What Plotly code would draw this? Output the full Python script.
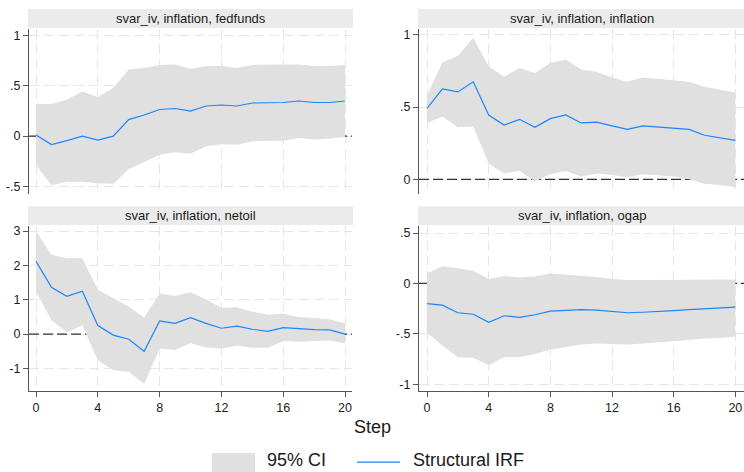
import plotly.graph_objects as go

steps = list(range(21))

# fedfunds
ff_irf = [0.01, -0.085, -0.045, 0.0, -0.04, 0.0, 0.165, 0.21, 0.265, 0.275, 0.25,
          0.30, 0.31, 0.30, 0.33, 0.335, 0.335, 0.35, 0.335, 0.335, 0.35]
ff_hi = [0.32, 0.32, 0.365, 0.445, 0.39, 0.48, 0.665, 0.68, 0.71, 0.715, 0.67,
         0.70, 0.70, 0.68, 0.71, 0.715, 0.715, 0.715, 0.70, 0.70, 0.71]
ff_lo = [-0.29, -0.49, -0.455, -0.455, -0.47, -0.475, -0.33, -0.26, -0.185, -0.16, -0.175,
         -0.10, -0.08, -0.085, -0.05, -0.045, -0.045, -0.02, -0.035, -0.025, -0.01]

# inflation
inf_irf = [0.49, 0.625, 0.605, 0.675, 0.445, 0.375, 0.415, 0.36, 0.42, 0.445, 0.39,
           0.395, 0.37, 0.345, 0.37, 0.36, 0.355, 0.345, 0.305, 0.29, 0.27]
inf_hi = [0.58, 0.81, 0.855, 0.98, 0.78, 0.71, 0.77, 0.735, 0.805, 0.83, 0.76,
          0.745, 0.705, 0.675, 0.705, 0.695, 0.69, 0.675, 0.64, 0.62, 0.60]
inf_lo = [0.39, 0.435, 0.36, 0.365, 0.11, 0.04, 0.06, -0.015, 0.035, 0.058, 0.02,
          0.04, 0.03, 0.015, 0.035, 0.03, 0.02, 0.0, -0.03, -0.04, -0.055]

# netoil
oil_irf = [2.12, 1.36, 1.10, 1.25, 0.25, -0.03, -0.15, -0.50, 0.38, 0.31, 0.48,
           0.31, 0.17, 0.23, 0.14, 0.08, 0.19, 0.15, 0.13, 0.12, 0.0]
oil_hi = [3.0, 2.31, 2.21, 2.21, 1.29, 1.04, 0.80, 0.48, 1.18, 1.11, 1.22,
          1.01, 0.77, 0.78, 0.65, 0.56, 0.59, 0.50, 0.47, 0.43, 0.31]
oil_lo = [1.24, 0.40, 0.05, 0.26, -0.76, -1.05, -1.10, -1.45, -0.42, -0.46, -0.27,
          -0.39, -0.42, -0.34, -0.40, -0.40, -0.20, -0.22, -0.20, -0.19, -0.27]

# ogap
og_irf = [-0.20, -0.215, -0.29, -0.305, -0.385, -0.32, -0.335, -0.31, -0.275, -0.27, -0.26,
          -0.265, -0.275, -0.29, -0.285, -0.28, -0.27, -0.26, -0.25, -0.245, -0.235]
og_hi = [0.10, 0.17, 0.15, 0.125, 0.045, 0.075, 0.06, 0.07, 0.10, 0.09, 0.08,
         0.065, 0.045, 0.035, 0.035, 0.035, 0.04, 0.04, 0.04, 0.04, 0.04]
og_lo = [-0.49, -0.615, -0.73, -0.735, -0.81, -0.73, -0.73, -0.70, -0.655, -0.63, -0.605,
         -0.595, -0.60, -0.605, -0.595, -0.585, -0.575, -0.56, -0.545, -0.54, -0.525]

titles = ["svar_iv, inflation, fedfunds", "svar_iv, inflation, inflation",
          "svar_iv, inflation, netoil", "svar_iv, inflation, ogap"]
x_ticks = [0, 4, 8, 12, 16, 20]
y_ticks = [
    ([-0.5, 0, 0.5, 1], ["-.5", "0", ".5", "1"]),
    ([0, 0.5, 1], ["0", ".5", "1"]),
    ([-1, 0, 1, 2, 3], ["-1", "0", "1", "2", "3"]),
    ([-1, -0.5, 0, 0.5], ["-1", "-.5", "0", ".5"]),
]
legend_labels = ["95% CI", "Structural IRF"]
x_label = "Step"
ref_value = 0

series = [(ff_irf, ff_lo, ff_hi), (inf_irf, inf_lo, inf_hi),
          (oil_irf, oil_lo, oil_hi), (og_irf, og_lo, og_hi)]

W, H = 744, 472
BAND = "#e0e0e0"
LINE = "#1a85ff"
STRIP = "#ebebeb"
AX = "#555555"
GRID = "#e6e6e6"
TXT = "#1a1a1a"
FONT = "Liberation Sans, Arial, sans-serif"

# pixel geometry of each panel: (left, right, top, bottom)
panels = [(29, 352, 27, 193), (419, 744, 27, 193), (29, 352, 225, 391), (419, 744, 225, 391)]
x_ranges = [[-0.453, 20.45], [-0.52, 20.56], [-0.453, 20.45], [-0.52, 20.56]]
y_ranges = [[-0.579, 1.069], [-0.103, 1.041], [-1.667, 3.145], [-1.069, 0.569]]

fig = go.Figure()
layout = dict(
    width=W, height=H, margin=dict(l=0, r=0, t=0, b=0),
    paper_bgcolor="white", plot_bgcolor="white", showlegend=False,
    font=dict(family=FONT, size=12, color=TXT),
)
shapes = []
annotations = []

for i, ((irf, lo, hi), (l, r, t, b)) in enumerate(zip(series, panels)):
    k = "" if i == 0 else str(i + 1)
    xa, ya = "x" + k, "y" + k
    # dashed zero reference line, drawn beneath the band
    fig.add_trace(go.Scatter(x=x_ranges[i], y=[ref_value, ref_value], mode="lines",
                             line=dict(color="#333333", width=1.2, dash="10px,4px"),
                             xaxis=xa, yaxis=ya, hoverinfo="skip"))
    fig.add_trace(go.Scatter(x=steps, y=lo, mode="lines", line=dict(width=0, color=BAND),
                             xaxis=xa, yaxis=ya, hoverinfo="skip"))
    fig.add_trace(go.Scatter(x=steps, y=hi, mode="lines", line=dict(width=0, color=BAND),
                             fill="tonexty", fillcolor=BAND, xaxis=xa, yaxis=ya, name=legend_labels[0]))
    fig.add_trace(go.Scatter(x=steps, y=irf, mode="lines", line=dict(width=1.2, color=LINE),
                             xaxis=xa, yaxis=ya, name=legend_labels[1]))
    bottom_row = i >= 2
    layout["xaxis" + k] = dict(
        domain=[l / W, r / W], range=x_ranges[i], anchor=ya,
        tickvals=x_ticks, showticklabels=bottom_row,
        ticks="outside" if bottom_row else "", ticklen=5, tickcolor=AX, tickwidth=1,
        showline=bottom_row, linecolor=AX, linewidth=1.3,
        showgrid=True, gridcolor=GRID, griddash="10px,5px", gridwidth=1,
        zeroline=False, tickfont=dict(size=12.5, color=TXT),
    )
    tv, tt = y_ticks[i]
    layout["yaxis" + k] = dict(
        domain=[1 - b / H, 1 - t / H], range=y_ranges[i], anchor=xa,
        tickvals=tv, ticktext=tt, ticks="outside", ticklen=5, tickcolor=AX, tickwidth=1,
        showline=True, linecolor=AX, linewidth=1.3,
        showgrid=True, gridcolor=GRID, griddash="10px,5px", gridwidth=1,
        zeroline=False, tickfont=dict(size=12.5, color=TXT),
    )
    # title strip
    shapes.append(dict(type="rect", xref="paper", yref="paper",
                       x0=(l - 1) / W, x1=(r + 1) / W, y0=1 - (t - 1) / H, y1=1 - (t - 20) / H,
                       fillcolor=STRIP, line=dict(width=0), layer="above"))
    annotations.append(dict(text=titles[i], xref="paper", yref="paper",
                            x=(l + r) / 2 / W, y=1 - (t - 10.5) / H, showarrow=False,
                            xanchor="center", yanchor="middle", font=dict(size=13, color=TXT)))

# x-axis title
annotations.append(dict(text=x_label, xref="paper", yref="paper", x=372 / W, y=1 - 427 / H,
                        showarrow=False, xanchor="center", yanchor="middle",
                        font=dict(size=18, color=TXT)))
# legend
shapes.append(dict(type="rect", xref="paper", yref="paper", x0=212 / W, x1=255 / W,
                   y0=1 - 474 / H, y1=1 - 453 / H, fillcolor=BAND, line=dict(width=0)))
annotations.append(dict(text=legend_labels[0], xref="paper", yref="paper", x=266 / W, y=1 - 471 / H,
                        showarrow=False, xanchor="left", yanchor="bottom", borderpad=0,
                        font=dict(size=18, color=TXT)))
shapes.append(dict(type="line", xref="paper", yref="paper", x0=357 / W, x1=400 / W,
                   y0=1 - 462 / H, y1=1 - 462 / H, line=dict(color=LINE, width=1.3)))
annotations.append(dict(text=legend_labels[1], xref="paper", yref="paper", x=412 / W, y=1 - 471 / H,
                        showarrow=False, xanchor="left", yanchor="bottom", borderpad=0,
                        font=dict(size=18, color=TXT)))

layout["shapes"] = shapes
layout["annotations"] = annotations
fig.update_layout(**layout)
fig.write_html("out.html")
